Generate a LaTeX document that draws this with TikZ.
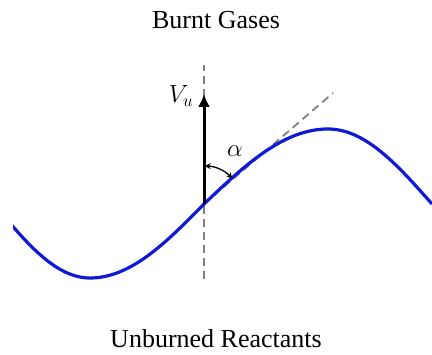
\documentclass[tikz,border=0pt]{standalone}
\usepackage{fontspec}
\setmainfont{Liberation Serif}
\usetikzlibrary{arrows.meta}

\begin{document}
\begin{tikzpicture}[x=1pt,y=1pt,>={Stealth},
    every node/.style={font=\fontsize{26}{30}\selectfont},
    sym/.style={font=\fontsize{23}{26}\selectfont},
    wave/.style={draw={rgb,255:red,15;green,25;blue,215}, line width=3.2pt},
    guide/.style={draw=gray, line width=1.8pt, dash pattern=on 8pt off 5pt},
    vel/.style={line width=3pt, -{Latex[length=13pt,width=12pt]}},
    ang/.style={line width=1.3pt, {Stealth[length=6pt,width=6pt]}-{Stealth[length=6pt,width=6pt]}}]
    \useasboundingbox (0,0) rectangle (432,355);

    \coordinate (o) at (204,151);
    \coordinate (top) at (204,290);
    \coordinate (bot) at (204,76);
    \coordinate (tip) at (204,261);
    \coordinate (tan) at (333,262);

    \node[anchor=base] (burnt) at (216,326) {Burnt Gases};
    \node[anchor=base] (unburnt) at (216,7) {Unburned Reactants};

    \draw[guide] (bot) -- (top);
    \draw[guide] (o) -- (tan);

    % flame front
    \begin{scope}
        \clip (13,0) rectangle (432,355);
        \draw[wave] (-6,151) sin (90,77) cos (204,151) sin (328,226) cos (432,151);
    \end{scope}

    \draw[vel] (o) -- (tip);
    \node[sym] (vu) at (181,259) {$V_u$};
    \draw[ang] ([shift={(89:38pt)}]o) arc (89:42:38pt);
    \node[sym] (alpha) at (235,204) {$\alpha$};
\end{tikzpicture}
\end{document}
